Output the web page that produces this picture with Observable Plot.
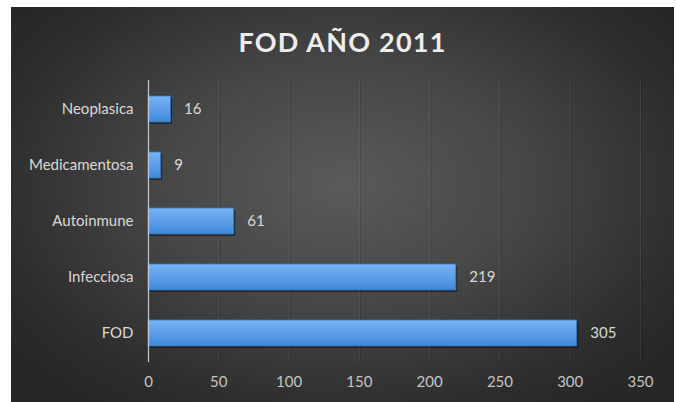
<!DOCTYPE html>
<html>
<head>
<meta charset="utf-8">
<script src="https://cdn.jsdelivr.net/npm/d3@7"></script>
<script src="https://cdn.jsdelivr.net/npm/@observablehq/plot@0.6"></script>
<style>
  html, body { margin: 0; padding: 0; background: #ffffff; }
  #frame {
    position: absolute; left: 11px; top: 7px; width: 663px; height: 395px;
    background: radial-gradient(ellipse 62% 68% at 50% 45%, #5a5a5a 0%, #464646 45%, #2d2d2d 85%, #272727 100%);
    overflow: hidden;
  }
  #title {
    position: absolute; left: 0; top: 18px; width: 100%; text-align: center;
    font-family: Lato, "Open Sans", sans-serif; font-weight: bold; font-size: 27px;
    letter-spacing: 1.2px; color: #ededed; line-height: 34px;
  }
  #chart { position: absolute; left: 0; top: 0; }
</style>
</head>
<body>
<div id="frame">
  <div id="title">FOD AÑO 2011</div>
  <div id="chart"></div>
</div>
<script>
const categories = ["Neoplasica", "Medicamentosa", "Autoinmune", "Infecciosa", "FOD"];
const values = [16, 9, 61, 219, 305];
const xTicks = [0, 50, 100, 150, 200, 250, 300, 350];

const data = categories.map((c, i) => ({category: c, value: values[i]}));

const defs = () => {
  const svgNS = "http://www.w3.org/2000/svg";
  const d = document.createElementNS(svgNS, "defs");
  d.innerHTML = `
    <linearGradient id="barGrad" x1="0" y1="0" x2="0" y2="1">
      <stop offset="0%" stop-color="#78b2f2"/>
      <stop offset="50%" stop-color="#5d9fe8"/>
      <stop offset="100%" stop-color="#3f88d8"/>
    </linearGradient>`;
  return d;
};

const chart = Plot.plot({
  width: 663,
  height: 395,
  marginLeft: 137,
  marginRight: 34,
  marginTop: 73,
  marginBottom: 40,
  style: {background: "transparent", fontFamily: "Lato, 'Open Sans', sans-serif"},
  x: {domain: [0, 350], ticks: xTicks, label: null},
  y: {domain: categories, paddingInner: 0.54, paddingOuter: 0.27, label: null},
  marks: [
    defs,
    Plot.ruleX(xTicks.filter(t => t > 0), {stroke: "#ffffff", strokeOpacity: 0.08, strokeWidth: 1}),
    Plot.ruleX(xTicks.filter(t => t > 0), {stroke: "#000000", strokeOpacity: 0.15, strokeWidth: 1, dx: 1}),
    Plot.barX(data, {y: "category", x: "value", fill: "#000", fillOpacity: 0.45, dx: 1.5, dy: 2}),
    Plot.barX(data, {y: "category", x: "value", fill: "url(#barGrad)", stroke: "#3476bd", strokeWidth: 0.8}),
    Plot.ruleX([0], {stroke: "#c8c8c8", strokeWidth: 1.2}),
    Plot.text(data, {y: "category", x: "value", text: d => String(d.value), dx: 13, textAnchor: "start", fill: "#d9d9d9", fontSize: 15}),
    Plot.axisX({ticks: xTicks, tickSize: 0, tickPadding: 14, fontSize: 15, color: "#c4c4c4", label: null}),
    Plot.axisY({tickSize: 0, tickPadding: 15, fontSize: 15, color: "#d9d9d9", label: null})
  ]
});

document.getElementById("chart").appendChild(chart);
</script>
</body>
</html>
